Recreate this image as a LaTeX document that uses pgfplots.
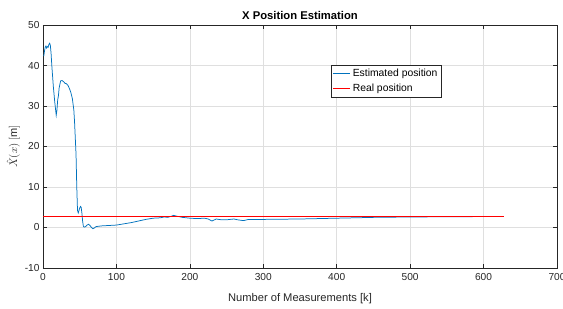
\documentclass[border=0pt]{standalone}
\usepackage{pgfplots}
\pgfplotsset{compat=1.18}
\usepackage{fontspec}
\setmainfont{Liberation Sans}
\definecolor{mblue}{rgb}{0,0.447,0.741}
\definecolor{axgray}{gray}{0.15}
\begin{document}
\begin{tikzpicture}
\path[use as bounding box] (-43bp,-41bp) rectangle (520bp,268bp);
\begin{axis}[
  at={(0,0)}, anchor=south west,
  scale only axis,
  width=514bp, height=243bp,
  xmin=0, xmax=700, ymin=-10, ymax=50,
  xtick={0,100,...,700}, ytick={-10,0,...,50},
  grid=major,
  major grid style={gray!25, line width=0.5pt},
  axis line style={axgray, line width=0.6pt},
  tick style={axgray, line width=0.5pt},
  tick align=inside,
  major tick length=4bp,
  tick label style={font=\fontsize{10.2}{12}\selectfont, text=axgray},
  xticklabel style={yshift=-2bp},
  /pgf/number format/assume math mode=true,
  xlabel={Number of Measurements [k]},
  ylabel={$\hat{X}(x)\ [\mathrm{m}]$},
  xlabel style={font=\fontsize{11.2}{12}\selectfont, text=axgray, yshift=-6bp},
  ylabel style={font=\fontsize{11}{12}\selectfont, text=axgray, yshift=-2bp},
  title={X Position Estimation},
  title style={font=\bfseries\fontsize{11.3}{12}\selectfont, yshift=-4bp},
  legend style={at={(0.56,0.837)}, anchor=north west, font=\fontsize{10.4}{13}\selectfont,
    draw=axgray, line width=0.5pt, inner sep=2pt, row sep=2pt,
    legend cell align=left},
  legend image post style={line width=0.75pt},
]
\addplot[mblue, line width=0.75pt] coordinates {
(1,42.3)(2,43.5)(3,44.5)(4,44.8)(5,44.3)(6,44.7)(7,44.5)(8,45.2)(9,45.5)(10,45.0)
(11,43)(12,40)(14,35)(16,31)(18,27.7)(19,29)(20,31.5)(21,32.5)(22,34.5)(24,36.2)
(26,36.3)(28,36)(30,35.6)(32,35.5)(34,35.1)(36,34.3)(38,33.3)(40,31.8)(42,29)(43,26)
(44,22)(45,18)(46,10)(47,4.2)(48,3.6)(49,4.2)(50,4.8)(51,5.2)(52,5.0)(53,3.5)
(54,1.5)(55,0.3)(56,0.1)(58,0.2)(60,0.6)(62,0.8)(64,0.5)(66,0.0)(68,-0.3)(70,-0.1)
(72,0.2)(75,0.3)(80,0.4)(90,0.5)(100,0.6)(110,0.9)(120,1.2)(130,1.6)(140,2.0)(150,2.3)
(160,2.4)(165,2.6)(170,2.5)(175,2.8)(178,3.0)(182,2.8)(190,2.5)(200,2.3)(210,2.2)(220,2.3)
(225,2.1)(230,1.6)(236,2.1)(243,1.9)(250,1.9)(255,2.0)(260,2.1)(265,1.9)(273,1.7)(280,2.0)
(290,2.0)(300,2.0)(350,2.1)(400,2.3)(450,2.5)(500,2.6)(550,2.65)(600,2.7)(627,2.7)
};
\addlegendentry{Estimated position}
\addplot[red, line width=0.75pt] coordinates {(0,2.85)(628,2.85)};
\addlegendentry{Real position}
\end{axis}
\end{tikzpicture}
\end{document}
